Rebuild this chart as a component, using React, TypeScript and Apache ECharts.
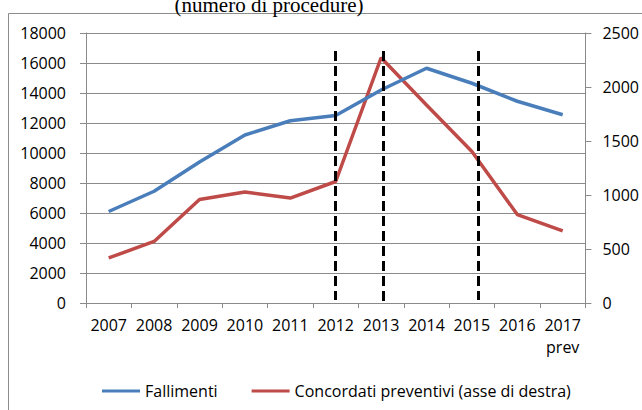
import React, { useEffect, useRef } from "react";
import * as echarts from "echarts";

const years = ["2007", "2008", "2009", "2010", "2011", "2012", "2013", "2014", "2015", "2016", "2017\nprev"];
const fallimenti = [6100, 7450, 9400, 11200, 12150, 12500, 14200, 15650, 14650, 13450, 12550];
const concordati = [417, 570, 958, 1028, 972, 1125, 2271, 1833, 1403, 819, 667];
const leftTicks = { min: 0, max: 18000, interval: 2000 };
const rightTicks = { min: 0, max: 2500, interval: 500 };
// dashed markers: [position in category units (index), top value, bottom value] on left axis
const markers: [number, number, number][] = [
  [5, 16800, 200],
  [6.05, 16800, 0],
  [8.13, 16800, 200],
];

const FONT = "Open Sans";
const GRID_COLOR = "#8a8a8a";
const FS = 16;

export default function App() {
  const ref = useRef<HTMLDivElement>(null);
  useEffect(() => {
    if (!ref.current) return;
    const chart = echarts.init(ref.current, undefined, { renderer: "svg" });
    chart.setOption({
      animation: false,
      textStyle: { fontFamily: FONT },
      graphic: [
        {
          type: "rect",
          silent: true,
          z: -1,
          shape: { x: 8.5, y: 13.5, width: 700, height: 500 },
          style: { fill: "none", stroke: "#8c8c8c", lineWidth: 1 },
        },
        {
          type: "text",
          x: 269,
          y: 15,
          style: {
            text: "(numero di procedure)",
            font: '21px "Liberation Serif"',
            fill: "#000",
            textAlign: "center",
            textVerticalAlign: "bottom",
          },
        },
      ],
      legend: {
        left: 97,
        top: 378,
        icon: "rect",
        itemWidth: 38,
        itemHeight: 3,
        itemGap: 34,
        textStyle: { fontFamily: FONT, fontSize: FS, color: "#000" },
        data: ["Fallimenti", "Concordati preventivi (asse di destra)"],
      },
      grid: { left: 86, right: 56, top: 33, bottom: 107 },
      xAxis: [
        {
          type: "category",
          data: years,
          boundaryGap: true,
          axisLine: { show: true, lineStyle: { color: GRID_COLOR, width: 1 } },
          axisTick: { show: true, length: 5, lineStyle: { color: GRID_COLOR } },
          axisLabel: { fontFamily: FONT, fontSize: FS, color: "#000", margin: 11, lineHeight: 22, interval: 0 },
          splitLine: { show: false },
        },
        {
          type: "value",
          min: 0,
          max: years.length,
          show: false,
        },
      ],
      yAxis: [
        {
          type: "value",
          ...leftTicks,
          axisLine: { show: true, lineStyle: { color: GRID_COLOR, width: 1 } },
          axisTick: { show: true, length: 6, lineStyle: { color: GRID_COLOR } },
          axisLabel: { fontFamily: FONT, fontSize: FS, color: "#000", margin: 20, formatter: (v: number) => String(v) },
          splitLine: { show: true, lineStyle: { color: GRID_COLOR, width: 1 } },
        },
        {
          type: "value",
          ...rightTicks,
          axisLine: { show: true, lineStyle: { color: GRID_COLOR, width: 1 } },
          axisTick: { show: true, length: 6, lineStyle: { color: GRID_COLOR } },
          axisLabel: { fontFamily: FONT, fontSize: FS, color: "#000", margin: 17, formatter: (v: number) => String(v) },
          splitLine: { show: false },
        },
      ],
      series: [
        {
          name: "Fallimenti",
          type: "line",
          data: fallimenti,
          yAxisIndex: 0,
          showSymbol: false,
          symbol: "none",
          itemStyle: { color: "#4A7EBB" },
          lineStyle: { color: "#4A7EBB", width: 3.5 },
          z: 3,
        },
        {
          name: "Concordati preventivi (asse di destra)",
          type: "line",
          data: concordati,
          yAxisIndex: 1,
          showSymbol: false,
          symbol: "none",
          itemStyle: { color: "#BE4B48" },
          lineStyle: { color: "#BE4B48", width: 3.5 },
          z: 2,
        },
        {
          name: "markers",
          type: "line",
          xAxisIndex: 1,
          yAxisIndex: 0,
          data: [],
          symbol: "none",
          z: 4,
          markLine: {
            silent: true,
            symbol: ["none", "none"],
            label: { show: false },
            lineStyle: { color: "#000", width: 3, type: [10, 5] },
            data: markers.map(([x, top, bottom]) => [
              { coord: [x + 0.5, top] },
              { coord: [x + 0.5, bottom] },
            ]),
          },
        },
      ],
    });
    return () => chart.dispose();
  }, []);
  return (
    <div
      ref={ref}
      style={{ position: "fixed", left: 0, top: 0, width: 642, height: 410, background: "#fff" }}
    />
  );
}
